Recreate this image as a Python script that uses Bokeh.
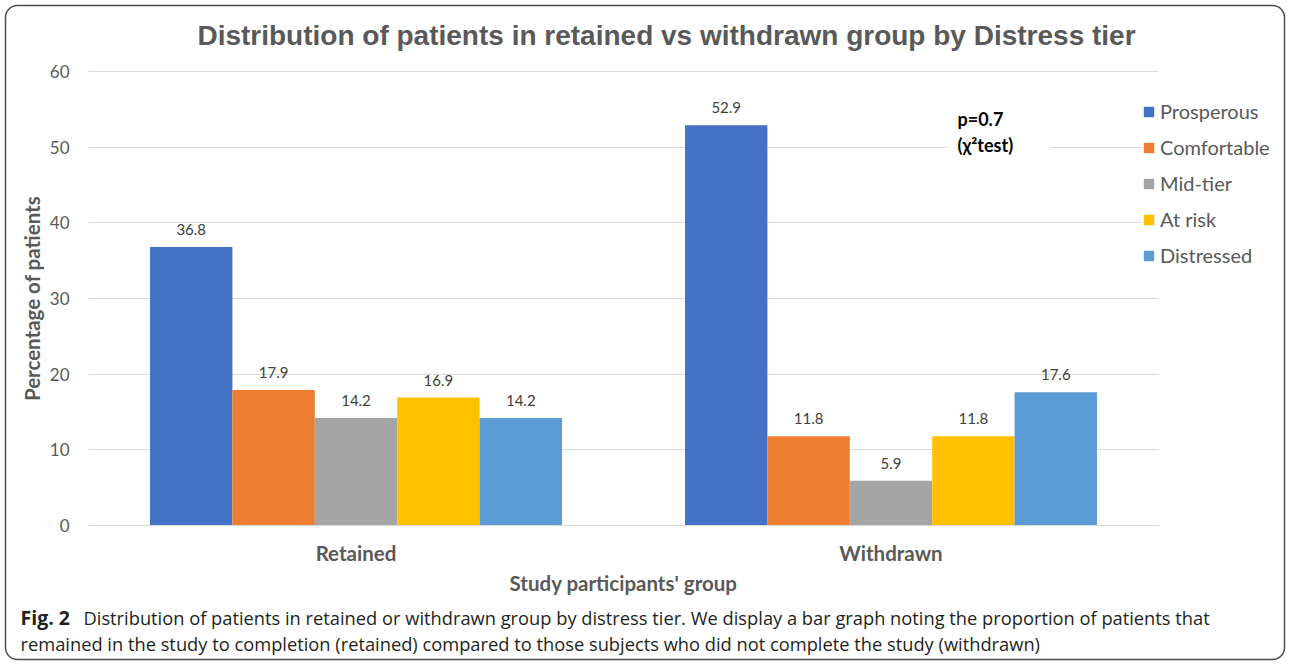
from bokeh.plotting import figure
from bokeh.models import (ColumnDataSource, Range1d, Legend, LegendItem, Label,
                          BoxAnnotation, FixedTicker)
from bokeh.transform import dodge
from bokeh.core.properties import value
from bokeh.embed import file_html
from bokeh.resources import INLINE

groups = ["Retained", "Withdrawn"]
tiers = ["Prosperous", "Comfortable", "Mid-tier", "At risk", "Distressed"]
retained = [36.8, 17.9, 14.2, 16.9, 14.2]
withdrawn = [52.9, 11.8, 5.9, 11.8, 17.6]
colors = ["#4472C4", "#ED7D31", "#A5A5A5", "#FFC000", "#5B9BD5"]
y_ticks = [0, 10, 20, 30, 40, 50, 60]

title_text = "Distribution of patients in retained vs withdrawn group by Distress tier"
x_label = "Study participants' group"
y_label = "Percentage of patients"
p_text1 = "p=0.7"
p_text2 = "(\u03c7\u00b2test)"
cap_bold = "Fig. 2"
cap_line1 = ("Distribution of patients in retained or withdrawn group by distress tier. "
             "We display a bar graph noting the proportion of patients that")
cap_line2 = ("remained in the study to completion (retained) compared to those subjects "
             "who did not complete the study (withdrawn)")

W, H = 1290, 665
# plot-area edges in page pixels
FL, FR, FT, FB = 88, 1158, 71, 525
YMAX = 60
FONT = "Lato"
GREY = "#595959"
NG = len(groups)

def dx(px):
    return (px - FL) / (FR - FL) * NG

def dy(py):
    return (FB - py) / (FB - FT) * YMAX

p = figure(x_range=Range1d(dx(0), dx(W)), y_range=Range1d(dy(H), dy(0)),
           width=W, height=H, output_backend="svg", toolbar_location=None,
           min_border=0)
p.outline_line_color = None
p.background_fill_color = "white"
p.border_fill_color = "white"

centers = [i + 0.5 for i in range(NG)]
bw = 0.154
renderers = []
for i, tier in enumerate(tiers):
    vals = [retained[i], withdrawn[i]]
    src = ColumnDataSource(dict(xc=centers, val=vals,
                                lab=[f"{v:.1f}" for v in vals]))
    off = (i - 2) * bw
    r = p.vbar(x=dodge("xc", off), top="val", width=bw,
               source=src, fill_color=colors[i], line_color=None)
    renderers.append(r)
    p.text(x=dodge("xc", off), y="val", text="lab", source=src,
           text_align="center", text_baseline="bottom", y_offset=-12,
           text_font=value(FONT), text_font_size="15px", text_color="#404040")

# axes (drawn at fixed data locations)
p.xgrid.grid_line_color = None
p.ygrid.grid_line_color = "#d9d9d9"
p.ygrid.grid_line_width = 1
p.ygrid.bounds = (0, YMAX)
p.ygrid.cross_bounds = (0, NG)

p.yaxis.fixed_location = 0
p.yaxis.bounds = (0, YMAX)
p.yaxis.ticker = FixedTicker(ticks=y_ticks)
p.yaxis.axis_line_color = None
p.yaxis.major_tick_line_color = None
p.yaxis.minor_tick_line_color = None
p.yaxis.major_label_standoff = 13
p.yaxis.major_label_text_font = FONT
p.yaxis.major_label_text_font_size = "17px"
p.yaxis.major_label_text_color = GREY
p.yaxis.axis_label = y_label
p.yaxis.axis_label_text_font = FONT
p.yaxis.axis_label_text_font_size = "20.5px"
p.yaxis.axis_label_text_font_style = "bold"
p.yaxis.axis_label_text_color = GREY
p.yaxis.axis_label_standoff = 3

p.xaxis.fixed_location = 0
p.xaxis.bounds = (0, NG)
p.xaxis.ticker = FixedTicker(ticks=centers)
p.xaxis.major_label_overrides = {c: g for c, g in zip(centers, groups)}
p.xaxis.axis_line_color = "#d9d9d9"
p.xaxis.major_tick_line_color = None
p.xaxis.minor_tick_line_color = None
p.xaxis.major_label_standoff = 9
p.xaxis.major_label_text_font = FONT
p.xaxis.major_label_text_font_size = "20.5px"
p.xaxis.major_label_text_font_style = "bold"
p.xaxis.major_label_text_color = GREY
p.xaxis.axis_label = x_label
p.xaxis.axis_label_text_font = FONT
p.xaxis.axis_label_text_font_size = "20.5px"
p.xaxis.axis_label_text_font_style = "bold"
p.xaxis.axis_label_text_color = GREY
p.xaxis.axis_label_standoff = 3

# legend (location = bottom-left corner, pixels from plot's bottom-left)
legend = Legend(items=[LegendItem(label=t, renderers=[r]) for t, r in zip(tiers, renderers)],
                location=(1142, H - 267), glyph_width=13, glyph_height=13,
                label_height=24, spacing=12, padding=0, margin=0,
                label_standoff=5, border_line_color=None,
                background_fill_color="white", background_fill_alpha=1,
                label_text_font=FONT, label_text_font_size="20px",
                label_text_color=GREY)
p.add_layout(legend, "center")

# p-value annotation
p.add_layout(BoxAnnotation(left=dx(947), right=dx(1050), bottom=dy(152), top=dy(131),
                           fill_color="white", fill_alpha=1, line_color=None,
                           level="underlay"))
p.add_layout(Label(x=dx(957), y=dy(118), text=p_text1, text_baseline="middle",
                   text_font=FONT, text_font_size="18px", text_font_style="bold",
                   text_color="black"))
p.add_layout(Label(x=dx(957), y=dy(144), text=p_text2, text_baseline="middle",
                   text_font=FONT, text_font_size="18px", text_font_style="bold",
                   text_color="black"))

# title
p.add_layout(Label(x=dx(666), y=dy(35), text=title_text, text_align="center",
                   text_baseline="middle", text_font="Liberation Sans",
                   text_font_size="28px", text_font_style="bold", text_color=GREY))

# caption
CAP_FONT = "Open Sans"
p.add_layout(Label(x=dx(20), y=dy(617), text=cap_bold, text_baseline="middle",
                   text_font=CAP_FONT, text_font_size="19.5px", text_font_style="bold",
                   text_color="#231f20"))
p.add_layout(Label(x=dx(83), y=dy(617), text=cap_line1, text_baseline="middle",
                   text_font=CAP_FONT, text_font_size="18.3px", text_color="#231f20"))
p.add_layout(Label(x=dx(20), y=dy(643), text=cap_line2, text_baseline="middle",
                   text_font=CAP_FONT, text_font_size="18.3px", text_color="#231f20"))

# outer rounded frame
p.add_layout(BoxAnnotation(left=5, right=1284, top=5, bottom=659,
                           left_units="canvas", right_units="canvas",
                           top_units="canvas", bottom_units="canvas",
                           fill_alpha=0, line_color="#4d4d4d", line_alpha=1,
                           line_width=1.5, border_radius=12))

open("out.html", "w").write(file_html(p, INLINE))
